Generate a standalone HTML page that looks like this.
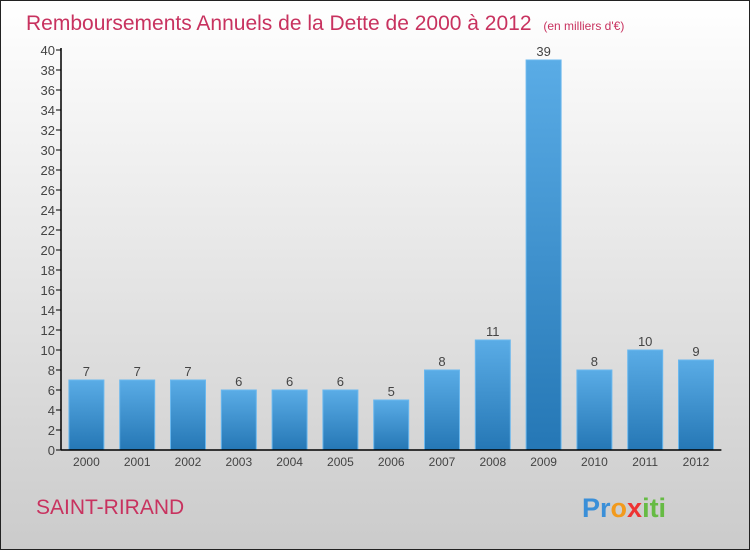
<!DOCTYPE html>
<html><head><meta charset="utf-8">
<style>
body{margin:0;width:750px;height:550px;overflow:hidden;font-family:"Liberation Sans",sans-serif}
#wrap{position:absolute;left:0;top:0;width:748px;height:548px;border:1px solid #222;background:linear-gradient(#fff,#cbcbcb)}
</style></head><body>
<div id="wrap">
<svg width="750" height="550" style="position:absolute;left:-1px;top:-1px" id="svg">
<defs><linearGradient id="g" x1="0" y1="0" x2="0" y2="1"><stop offset="0" stop-color="#5aace6"/><stop offset="1" stop-color="#2577b5"/></linearGradient></defs>
<text x="26" y="30" font-size="21" fill="#c8325f">Remboursements Annuels de la Dette de 2000 à 2012 <tspan font-size="12" dx="6">(en milliers d'€)</tspan></text>
<text x="36" y="514" font-size="21" fill="#c8325f">SAINT-RIRAND</text>
<text x="582" y="517" font-size="27" font-weight="bold" fill="#f29a1c"><tspan fill="#3a8fd8">Pr</tspan><tspan fill="#f29a1c">o</tspan><tspan fill="#e33">x</tspan><tspan fill="#6b4">iti</tspan></text>
<g id="plot"></g>
</svg></div>
<script>
const years=["2000","2001","2002","2003","2004","2005","2006","2007","2008","2009","2010","2011","2012"];
const values=[7,7,7,6,6,6,5,8,11,39,8,10,9];
const yTicks=[0,2,4,6,8,10,12,14,16,18,20,22,24,26,28,30,32,34,36,38,40];
const NS="http://www.w3.org/2000/svg";
const g=document.getElementById('plot');
const x0=61,slot=50.8,y0=450,ppu=10;
const yS=v=>y0-v*ppu, xC=i=>x0+slot*(i+0.5);
function el(t,a,txt){const e=document.createElementNS(NS,t);for(const k in a)e.setAttribute(k,a[k]);if(txt!=null)e.textContent=txt;g.appendChild(e);return e;}
yTicks.forEach(v=>{
const t=el('line',{x1:x0-5,x2:x0,y1:yS(v),y2:yS(v),stroke:'#000'});


const l=el('text',{x:x0-6,y:yS(v)+5,'font-size':13,'text-anchor':'end',fill:'#444'},v);


});
values.forEach((v,i)=>{
const b=el('rect',{x:xC(i)-17.5,y:yS(v),width:35,height:v*ppu,fill:'url(#g)',stroke:'#6bb8ee','stroke-width':1});


const lab=el('text',{x:xC(i),y:yS(v)-4,'font-size':13,'text-anchor':'middle',fill:'#444'},v);


const xl=el('text',{x:xC(i),y:y0+16,'font-size':12,'text-anchor':'middle',fill:'#444'},years[i]);


});
const ya=el('line',{x1:x0,x2:x0,y1:yS(40)-2,y2:y0,stroke:'#000','stroke-width':1.5});


const xa=el('line',{x1:x0,x2:x0+slot*13,y1:y0,y2:y0,stroke:'#000','stroke-width':1.5});


</script>
</body></html>
